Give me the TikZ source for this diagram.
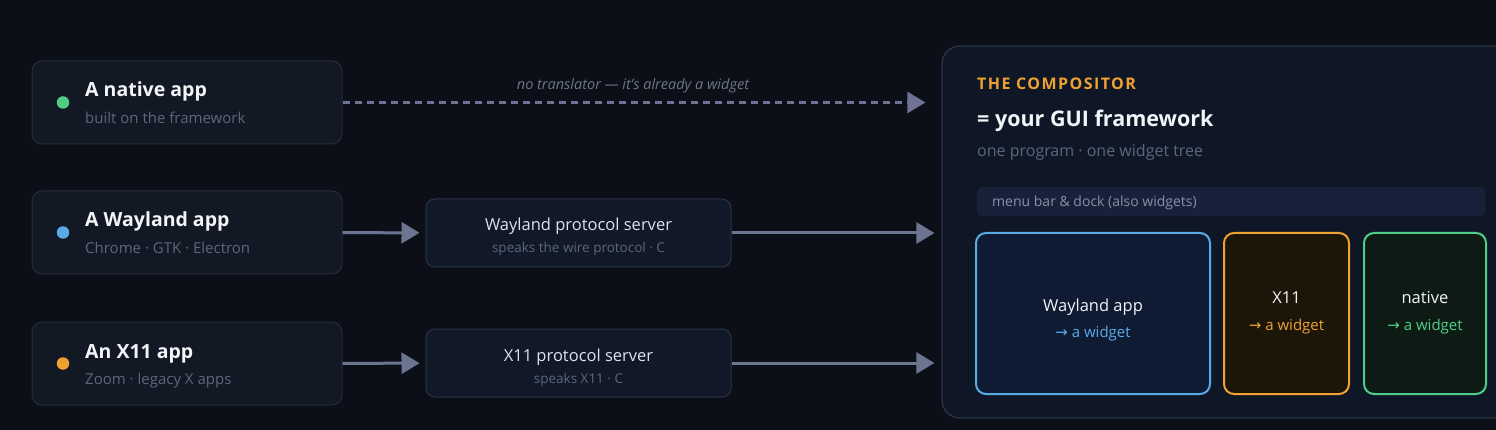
\documentclass[tikz,border=0pt]{standalone}
\usepackage{fontspec}
\setmainfont{Open Sans}
\newfontfamily\arrowfont{DejaVu Sans}
\newfontfamily\capsfont[LetterSpace=9]{Open Sans}
\usetikzlibrary{arrows.meta}
\usetikzlibrary{calc}

\definecolor{bgcol}{HTML}{0C0F18}
\definecolor{appfill}{HTML}{121824}
\definecolor{appline}{HTML}{242C3B}
\definecolor{srvfill}{HTML}{111827}
\definecolor{srvline}{HTML}{2B3447}
\definecolor{compfill}{HTML}{0F1726}
\definecolor{compline}{HTML}{2C3649}
\definecolor{menufill}{HTML}{18213A}
\definecolor{titlecol}{HTML}{F2F4F8}
\definecolor{subcol}{HTML}{5C677B}
\definecolor{srvtext}{HTML}{DCE2EE}
\definecolor{flowcol}{HTML}{6B7590}
\definecolor{dashcol}{HTML}{6E7394}
\definecolor{menutext}{HTML}{8690A6}
\definecolor{wlblue}{HTML}{5AAAE8}
\definecolor{xorange}{HTML}{EFA232}
\definecolor{natgreen}{HTML}{4FCF86}
\definecolor{wlfill}{HTML}{0F1A33}
\definecolor{xfill}{HTML}{1C1609}
\definecolor{natfill}{HTML}{0E1B15}

\tikzset{
	appnode/.style={draw=appline, fill=appfill, line width=1pt, rounded corners=10pt,
		minimum width=310pt, minimum height=83pt, inner sep=0pt},
	srvnode/.style={draw=srvline, fill=srvfill, line width=1pt, rounded corners=9pt,
		minimum width=305pt, minimum height=68pt, inner sep=0pt},
	dotnode/.style={circle, minimum size=12.5pt, inner sep=0pt},
	apptitle/.style={anchor=base west, inner sep=0pt, text=titlecol, font=\fontsize{19.5}{24}\selectfont\bfseries},
	appsub/.style={anchor=base west, inner sep=0pt, text=subcol, font=\fontsize{15}{18}\selectfont},
	srvtitle/.style={anchor=base, inner sep=0pt, text=srvtext, font=\fontsize{16.5}{20}\selectfont},
	srvsub/.style={anchor=base, inner sep=0pt, text=subcol, font=\fontsize{13.5}{16}\selectfont},
	widgetnode/.style={line width=2pt, rounded corners=10pt, minimum height=161pt, inner sep=0pt},
	flow/.style={draw=flowcol, line width=3pt, -{Triangle[length=18pt,width=21pt]}},
	noflow/.style={draw=dashcol, line width=3pt, dash pattern=on 7pt off 5pt,
		-{Triangle[length=18pt,width=21pt]}},
}

\newcommand{\appbox}[5] % name, y centre, dot colour, title, subtitle
{
	\node[appnode] (#1) at (187,#2) {};
	\node[dotnode, fill=#3] (#1dot) at (63,#2) {};
	\node[apptitle] (#1title) at (85,#2-5.5) {#4};
	\node[appsub] (#1sub) at (85,#2+21) {#5};
}
\newcommand{\serverbox}[4] % name, y centre, title, subtitle
{
	\node[srvnode] (#1) at (578.5,#2) {};
	\node[srvtitle] (#1title) at (578.5,#2-2) {#3};
	\node[srvsub] (#1sub) at (578.5,#2+20) {#4};
}
\newcommand{\widgetbox}[7] % name, x centre, width, colour, fill, label, label baseline
{
	\node[widgetnode, draw=#4, fill=#5, minimum width=#3pt] (#1) at (#2,313.5) {};
	\node[srvtitle, text=titlecol] (#1title) at (#2,#7) {#6};
	\node[srvtitle, text=#4, font=\fontsize{15}{18}\selectfont] (#1sub) at (#2,#7+26)
		{{\arrowfont →} a widget};
}

\begin{document}
\begin{tikzpicture}[x=1pt, y=-1pt]
	\fill[bgcol] (0,0) rectangle (1496,430);
	\useasboundingbox (0,0) rectangle (1496,430);
	\clip (0,0) rectangle (1496,430);

	% the three kinds of app
	\appbox{native}{102.5}{natgreen}{A native app}{built on the framework};
	\appbox{wayland}{232.5}{wlblue}{A Wayland app}{Chrome · GTK · Electron};
	\appbox{xapp}{363.5}{xorange}{An X11 app}{Zoom · legacy X apps};

	% translators
	\serverbox{wlserver}{233}{Wayland protocol server}{speaks the wire protocol · C};
	\serverbox{xserver}{363}{X11 protocol server}{speaks X11 · C};

	% compositor
	\node[draw=compline, fill=compfill, line width=1.2pt, rounded corners=18pt,
		minimum width=588pt, minimum height=372pt, inner sep=0pt] (comp) at (1236,232) {};
	\node[anchor=base west, inner sep=0pt, text=xorange, font=\fontsize{16}{19}\selectfont\capsfont\bfseries]
		(comphead) at (977,90) {THE COMPOSITOR};
	\node[anchor=base west, inner sep=0pt, text=titlecol, font=\fontsize{21.5}{26}\selectfont\bfseries]
		(comptitle) at (977,127) {= your GUI framework};
	\node[anchor=base west, inner sep=0pt, text=subcol, font=\fontsize{16}{19}\selectfont]
		(compsub) at (977,157) {one program · one widget tree};
	\node[fill=menufill, rounded corners=5pt, minimum width=508pt, minimum height=29pt, inner sep=0pt]
		(menubar) at (1231,201.5) {};
	\node[anchor=base west, inner sep=0pt, text=menutext, font=\fontsize{14}{17}\selectfont]
		(menutext) at (992,207) {menu bar \& dock (also widgets)};

	\widgetbox{wlwidget}{1093}{234}{wlblue}{wlfill}{Wayland app}{311};
	\widgetbox{xwidget}{1286.5}{125}{xorange}{xfill}{X11}{304};
	\widgetbox{natwidget}{1425}{122}{natgreen}{natfill}{native}{304};

	% connectors
	\draw[noflow, shorten >=16pt] (native) -- (native -| comp.west);
	\node[anchor=base, inner sep=0pt, text=subcol!90!white, font=\fontsize{14.5}{17}\selectfont\itshape]
		(nolabel) at (633,90) {no translator — it's already a widget};
	\draw[flow, shorten >=6pt] (wayland) -- (wlserver);
	\draw[flow, shorten >=7pt] (wlserver) -- (wlserver -| comp.west);
	\draw[flow, shorten >=6pt] (xapp) -- (xserver);
	\draw[flow, shorten >=7pt] (xserver) -- (xserver -| comp.west);
\end{tikzpicture}
\end{document}
